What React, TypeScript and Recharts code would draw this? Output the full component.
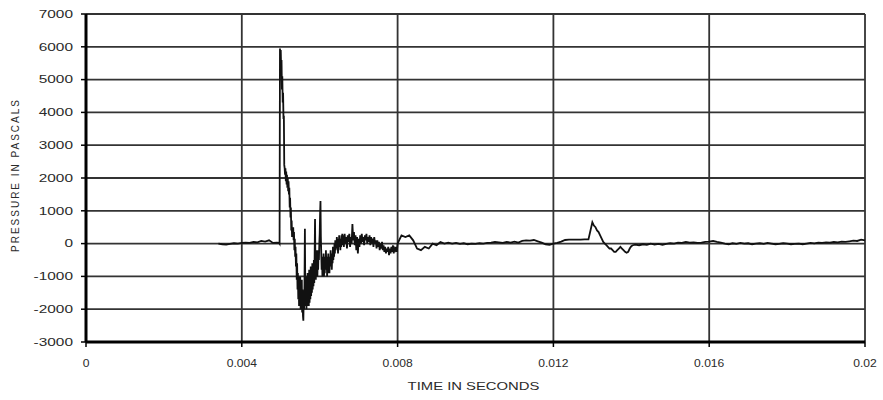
import React from "react";
import { LineChart, Line, XAxis, YAxis, CartesianGrid, Label } from "recharts";

// Pressure trace, stored as uniformly sampled segments (start time, sample step, values in Pa)
const leadStart = 0.0034;
const leadStep = 0.0001;
const leadValues = [0, -20, -30, -10, 10, 0, 20, 30, 20, 50, 40, 80, 60, 100, 20, 30];

// Shock front and initial decay
const frontStart = 0.00496;
const frontStep = 0.00001;
const frontValues = [
  20, 0, 5950, 5700, 5900, 5300, 5600, 4700, 5100, 4300,
  4600, 3800, 3900, 2400, 2300, 2100, 2300, 1900, 2200, 1800,
  2100, 1700, 2000, 1600, 1900, 1500, 1700, 1100, 1400, 800,
  1100, 400, 700, 200,
];

// Negative phase with reflections
const negStart = 0.0053;
const negStep = 0.00001;
const negValues = [
  500, 300, 500, 100, 350, -200, 150, -400, -100, -700,
  -300, -1100, -600, -1400, -900, -1700, -1000, -1900, -1200, -1800,
  -1000, -2000, -1300, -1900, -1100, -2100, -1400, -2200, -2350, -1600,
  -2000, -1200, 450, -1500, -1900, -1100, -2000, -1000, -1800, -900,
  -1900, -1100, -1900, -800, -1800, -900, -1700, -700, -1600, -800,
  -1500, -600, -1400, -700, -1300, -500, -1200, -400, 750, -600,
  -1100, -300, -900, -200, -1000, -400, -800, -200, -500, 0,
  300, 900, 1300, 200, -300, -800, -400, -1000, -500, -900,
  -300, -1000, -600, -900, -400, -800, -200, -700, -400, -1000,
  -600, -900, -300, -800, -500, -900, -400, -700, -200, -600,
  -300, -800, -400, -600, -100, -500, -200, -400, 0, -300,
  100, -200, 50, -100, 200, -150, 100, -300, 150, -100,
  250, 0, 150, -200, 100, -100, 250, 50, 300, -50,
];

// Ringing that settles towards zero
const ringStart = 0.0066;
const ringStep = 0.00002;
const ringValues = [
  250, -100, 300, 0, 200, -150, 250, 50, 300, -100,
  200, 0, 600, 100, 350, -50, 250, -200, 200, -300,
  150, -100, 250, 0, 300, 50, 200, -50, 250, 100,
  300, 0, 200, 50, 250, -50, 200, 0, 150, -100,
  200, 0, 100, -150, 100, -100, 50, -200, 0, -150,
  50, -200, -50, -250, -100, -300, -150, -250, -100, -350,
  -150, -300, -100, -250, -50, -300, -150, -200, -100, -250,
  0,
];

const midStart = 0.0081;
const midStep = 0.0001;
const midValues = [
  250, 200, 250, 100, -150, -200, -100, -150, 0, -50,
  50, 0, 30, 0, 20, -10, 10, -20, 0, -10,
  10, 0, 20, 30, 50, 40, 20, 50, 30, 60,
  30, 80, 100, 90, 110, 70, 30, -20, -40, 0,
  20, 60, 110, 120, 120, 120, 120, 130, 130,
];

// Secondary (reflected) pulse
const pulseStart = 0.013;
const pulseStep = 0.00004;
const pulseValues = [
  650, 550, 500, 400, 350, 250, 150, 50, 0, -50,
  -100, -150, -150, -200, -250, -250, -200, -150, -100, -150,
  -200, -250, -280, -250, -150, -80, -50,
];

const tailStart = 0.0141;
const tailStep = 0.0001;
const tailValues = [
  -30, -50, -20, -40, 0, -30, -10, -40, -10, 10,
  0, 30, 20, 50, 30, 40, 20, 30, 50, 60,
  80, 50, 30, 0, -20, 10, -10, 20, 0, 10,
  -20, 0, 10, -10, 20, 0, -20, -10, 10, 0,
  -20, -10, 0, -20, 0, 20, 10, 30, 20, 40,
  30, 50, 40, 60, 50, 70, 90, 80, 120, 100,
];

const timeTicks = [0, 0.004, 0.008, 0.012, 0.016, 0.02];
const pressureTicks = [-3000, -2000, -1000, 0, 1000, 2000, 3000, 4000, 5000, 6000, 7000];

const segments: [number, number, number[]][] = [
  [leadStart, leadStep, leadValues],
  [frontStart, frontStep, frontValues],
  [negStart, negStep, negValues],
  [ringStart, ringStep, ringValues],
  [midStart, midStep, midValues],
  [pulseStart, pulseStep, pulseValues],
  [tailStart, tailStep, tailValues],
];

const data: { t: number; p: number }[] = [];
segments.forEach(([start, step, values]) => {
  values.forEach((p, i) => {
    data.push({ t: +(start + i * step).toFixed(6), p });
  });
});

const FONT = "'Liberation Sans', Arial, sans-serif";
const TEXT_COLOR = "#2a2a2a";

const YTick = (props: any) => {
  const { x, y, payload } = props;
  return (
    <g transform={`translate(${x},${y})`}>
      <text
        transform="scale(1.4,1)"
        textAnchor="end"
        dy="0.35em"
        fontSize={11}
        fontFamily={FONT}
        fill={TEXT_COLOR}
      >
        {payload.value}
      </text>
    </g>
  );
};

const XTick = (props: any) => {
  const { x, y, payload } = props;
  return (
    <g transform={`translate(${x},${y})`}>
      <text
        transform="scale(1.1,1)"
        textAnchor="middle"
        dy="0.71em"
        fontSize={11}
        fontFamily={FONT}
        fill={TEXT_COLOR}
      >
        {String(payload.value)}
      </text>
    </g>
  );
};

export default function App() {
  return (
    <div style={{ position: "absolute", left: 0, top: 0, background: "#fff" }}>
      <LineChart
        width={883}
        height={400}
        data={data}
        margin={{ top: 14, right: 18, bottom: 28, left: 0 }}
      >
        <CartesianGrid stroke="#333" strokeWidth={1.8} />
        <XAxis
          dataKey="t"
          type="number"
          domain={[0, 0.02]}
          ticks={timeTicks}
          height={30}
          tickSize={5}
          tickMargin={12}
          axisLine={{ stroke: "#000", strokeWidth: 3 }}
          tickLine={{ stroke: "#000", strokeWidth: 1.5 }}
          tick={<XTick />}
        >
          <Label
            content={(p: any) => {
              const vb = p.viewBox;
              return (
                <g transform={`translate(${vb.x + vb.width / 2 - 2},${vb.y + 48})`}>
                  <text
                    transform="scale(1.35,1)"
                    textAnchor="middle"
                    fontSize={11}
                    fontFamily={FONT}
                    fill={TEXT_COLOR}
                  >
                    TIME IN SECONDS
                  </text>
                </g>
              );
            }}
          />
        </XAxis>
        <YAxis
          type="number"
          domain={[-3000, 7000]}
          ticks={pressureTicks}
          width={86}
          tickSize={5}
          tickMargin={8}
          axisLine={{ stroke: "#000", strokeWidth: 3 }}
          tickLine={{ stroke: "#000", strokeWidth: 1.5 }}
          tick={<YTick />}
        >
          <Label
            content={(p: any) => {
              const vb = p.viewBox;
              const cy = vb.y + vb.height / 2 - 3;
              return (
                <text
                  x={19}
                  y={cy}
                  transform={`rotate(-90, 19, ${cy})`}
                  textAnchor="middle"
                  fontSize={10}
                  letterSpacing={2}
                  fontFamily={FONT}
                  fill={TEXT_COLOR}
                >
                  PRESSURE IN PASCALS
                </text>
              );
            }}
          />
        </YAxis>
        <Line
          dataKey="p"
          type="linear"
          stroke="#111"
          strokeWidth={1.8}
          dot={false}
          isAnimationActive={false}
        />
      </LineChart>
    </div>
  );
}
